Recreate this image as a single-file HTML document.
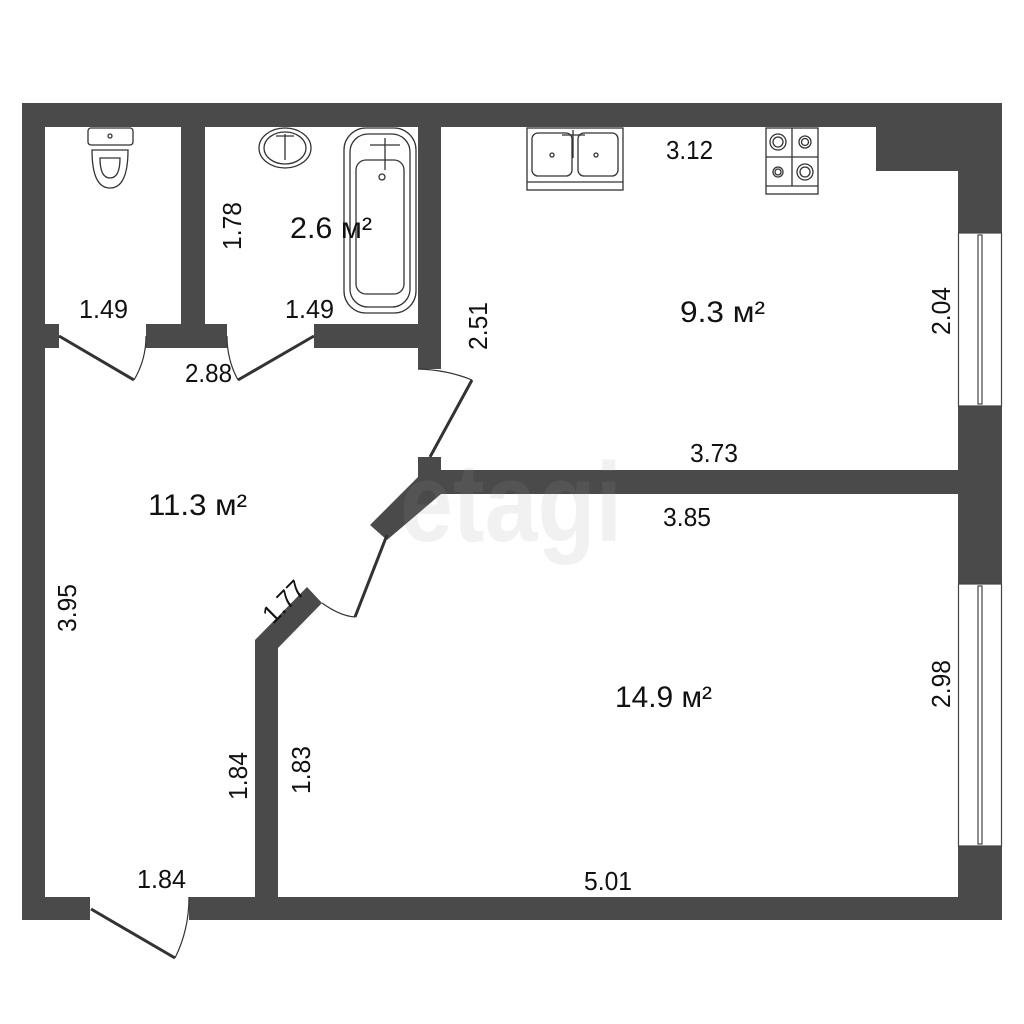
<!DOCTYPE html>
<html><head><meta charset="utf-8"><style>
html,body{margin:0;padding:0;background:#fff}
svg{display:block}
text{font-family:"Liberation Sans",sans-serif;fill:#111}
</style></head><body>
<svg width="1024" height="1024" viewBox="0 0 1024 1024" xmlns="http://www.w3.org/2000/svg">
<rect width="1024" height="1024" fill="#fff"/>
<g fill="#4a4a4a">
<rect x="22" y="103" width="980" height="24"/>
<rect x="22" y="103" width="23" height="817"/>
<rect x="958" y="103" width="44" height="130"/>
<rect x="958" y="406" width="44" height="178"/>
<rect x="958" y="846" width="44" height="74"/>
<rect x="876" y="127" width="82" height="44"/>
<rect x="22" y="897" width="68" height="23"/>
<rect x="189" y="897" width="813" height="23"/>
<rect x="181" y="127" width="24" height="221"/>
<rect x="45" y="324" width="14" height="24"/>
<rect x="146" y="324" width="81" height="24"/>
<rect x="314" y="324" width="104" height="24"/>
<rect x="418" y="127" width="23" height="242"/>
<rect x="418" y="457" width="23" height="20"/>
<rect x="441" y="470" width="517" height="24"/>
<polygon points="418,470 441,470 441,494 387,540 370,525 418,477"/>
<polygon points="307,587 322,603 278,648 278,897 255,897 255,640"/>
</g>
<g fill="#fff" stroke="#444" stroke-width="1.2">
<rect x="958.5" y="233" width="43" height="173"/>
<rect x="978" y="235" width="4" height="169"/>
<rect x="958.5" y="584" width="43" height="262"/>
<rect x="978" y="586" width="4" height="258"/>
</g>
<g stroke="#333" fill="none">
<line x1="59" y1="336" x2="134" y2="380" stroke-width="3"/>
<path d="M134,380 Q146,360 146,336" stroke-width="1.2"/>
<line x1="314" y1="336" x2="238" y2="380" stroke-width="3"/>
<path d="M238,380 Q227,360 227,336" stroke-width="1.2"/>
<line x1="430" y1="457" x2="472" y2="380" stroke-width="3"/>
<path d="M418,369 Q448,370 472,380" stroke-width="1.2"/>
<line x1="387" y1="535" x2="355" y2="617" stroke-width="3"/>
<path d="M322,603 Q340,616 355,617" stroke-width="1.2"/>
<line x1="91" y1="909" x2="175" y2="958" stroke-width="3"/>
<path d="M175,958 Q189,930 189,897" stroke-width="1.2"/>
</g>
<g stroke="#333" fill="none" stroke-width="1.3">
<rect x="88" y="128" width="45" height="17" rx="3"/>
<circle cx="110" cy="136" r="2"/>
<path d="M92,150 Q92,188 110,188 Q128,188 128,150 Z"/>
<path d="M100,158 Q100,178 110,178 Q120,178 120,158 Z"/>
<ellipse cx="285" cy="148" rx="26" ry="20"/>
<ellipse cx="285" cy="148" rx="21" ry="16"/>
<path d="M276,136 H294 M285,134 V160"/>
<rect x="344" y="128" width="72" height="185" rx="22"/>
<rect x="350" y="134" width="60" height="173" rx="18"/>
<rect x="356" y="160" width="48" height="134" rx="10"/>
<path d="M370,145 H400 M385,138 V170"/>
<circle cx="382" cy="177" r="3"/>
<rect x="527" y="128" width="96" height="62"/>
<rect x="532" y="133" width="40" height="43" rx="6"/>
<rect x="578" y="133" width="40" height="43" rx="6"/>
<line x1="527" y1="182" x2="623" y2="182"/>
<path d="M562,135 H585 M573,130 V158"/>
<circle cx="552" cy="155" r="2"/><circle cx="596" cy="155" r="2"/>
<rect x="766" y="128" width="52" height="66"/>
<line x1="792" y1="128" x2="792" y2="186"/>
<line x1="766" y1="157" x2="818" y2="157"/>
<line x1="766" y1="186" x2="818" y2="186"/>
<circle cx="778" cy="142" r="8"/><circle cx="778" cy="142" r="5"/>
<circle cx="805" cy="142" r="6"/><circle cx="805" cy="142" r="3.5"/>
<circle cx="778" cy="172" r="5"/><circle cx="778" cy="172" r="3"/>
<circle cx="805" cy="172" r="8"/><circle cx="805" cy="172" r="5"/>
</g>
<text x="400" y="541" font-size="112" font-weight="bold" style="fill:#999;opacity:0.13" textLength="222" lengthAdjust="spacingAndGlyphs">etagi</text>
<g font-size="26">
<text x="79" y="318" textLength="49" lengthAdjust="spacingAndGlyphs">1.49</text>
<text x="285" y="318" textLength="49" lengthAdjust="spacingAndGlyphs">1.49</text>
<text x="185" y="382" textLength="47" lengthAdjust="spacingAndGlyphs">2.88</text>
<text x="666" y="159" textLength="47" lengthAdjust="spacingAndGlyphs">3.12</text>
<text x="690" y="462" textLength="48" lengthAdjust="spacingAndGlyphs">3.73</text>
<text x="663" y="526" textLength="48" lengthAdjust="spacingAndGlyphs">3.85</text>
<text x="584" y="890" textLength="48" lengthAdjust="spacingAndGlyphs">5.01</text>
<text x="137" y="888" textLength="49" lengthAdjust="spacingAndGlyphs">1.84</text>
<text font-size="30" x="290" y="238" textLength="82" lengthAdjust="spacingAndGlyphs">2.6 м²</text>
<text font-size="30" x="680" y="322" textLength="85" lengthAdjust="spacingAndGlyphs">9.3 м²</text>
<text font-size="30" x="148" y="515" textLength="99" lengthAdjust="spacingAndGlyphs">11.3 м²</text>
<text font-size="30" x="615" y="707" textLength="97" lengthAdjust="spacingAndGlyphs">14.9 м²</text>
<text transform="translate(241,250) rotate(-90)" textLength="48" lengthAdjust="spacingAndGlyphs">1.78</text>
<text transform="translate(487,350) rotate(-90)" textLength="48" lengthAdjust="spacingAndGlyphs">2.51</text>
<text transform="translate(950,335) rotate(-90)" textLength="48" lengthAdjust="spacingAndGlyphs">2.04</text>
<text transform="translate(950,708) rotate(-90)" textLength="48" lengthAdjust="spacingAndGlyphs">2.98</text>
<text transform="translate(76,632) rotate(-90)" textLength="48" lengthAdjust="spacingAndGlyphs">3.95</text>
<text transform="translate(247,800) rotate(-90)" textLength="48" lengthAdjust="spacingAndGlyphs">1.84</text>
<text transform="translate(310,794) rotate(-90)" textLength="48" lengthAdjust="spacingAndGlyphs">1.83</text>
<text transform="translate(273,625) rotate(-45)" textLength="48" lengthAdjust="spacingAndGlyphs">1.77</text>
</g>
</svg>
</body></html>
